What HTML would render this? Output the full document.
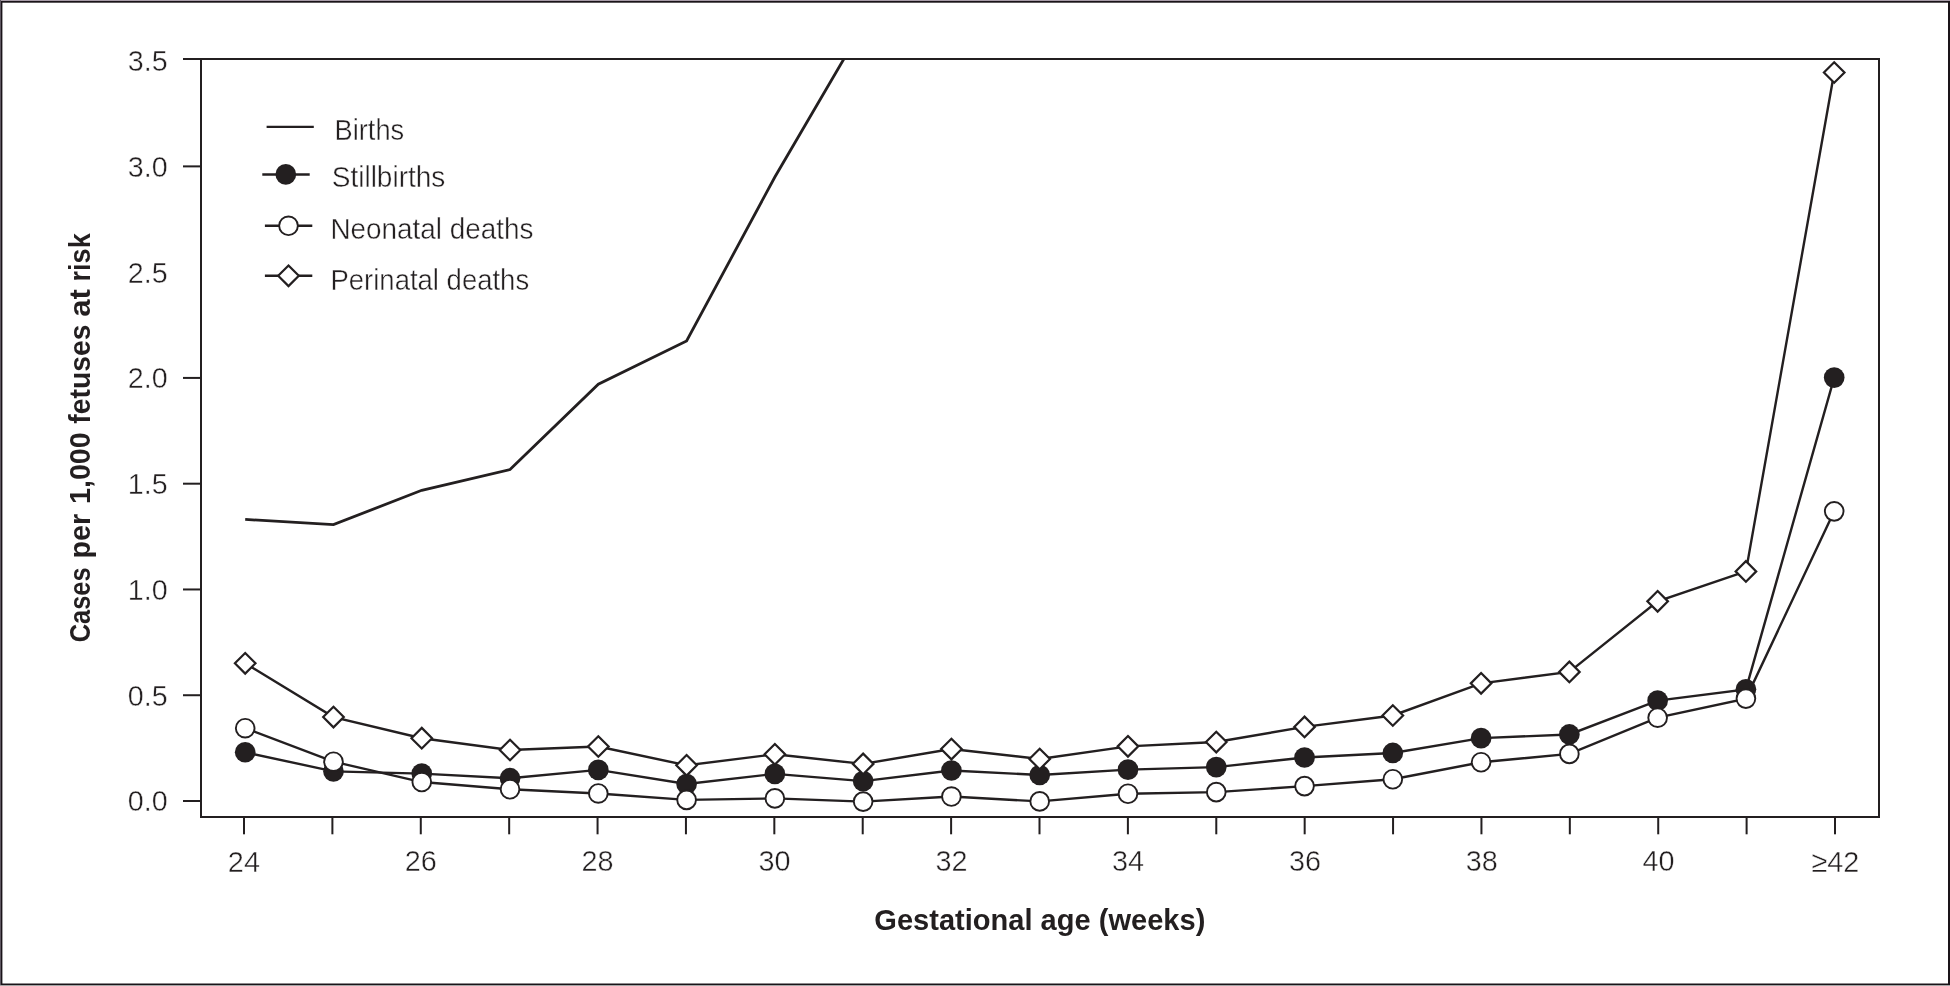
<!DOCTYPE html>
<html><head><meta charset="utf-8"><style>
html,body{margin:0;padding:0;background:#fff;overflow:hidden;}
svg{display:block;will-change:transform;}
.t{font-family:"Liberation Sans",sans-serif;font-size:28px;fill:#231f20;stroke:#fff;stroke-width:0.4px;}
.b{font-family:"Liberation Sans",sans-serif;font-size:28px;font-weight:bold;fill:#231f20;}
</style></head><body>
<svg width="1950" height="986" viewBox="0 0 1950 986">
<rect x="0" y="0" width="1950" height="986" fill="#ffffff"/>
<rect x="0" y="0" width="1950" height="1" fill="#a89ca8"/>
<rect x="0" y="0" width="1" height="986" fill="#5f5862"/>
<rect x="1" y="1" width="1949" height="1.7" fill="#1a1419"/>
<rect x="1" y="1" width="1.4" height="984" fill="#1a1419"/>
<rect x="1948" y="1" width="2" height="984" fill="#1a1419"/>
<rect x="1" y="983.5" width="1949" height="1.5" fill="#1a1419"/>
<rect x="0" y="985" width="1950" height="1" fill="#a6a6a6"/>
<rect x="201" y="59" width="1678" height="758" fill="none" stroke="#231f20" stroke-width="2"/>
<rect x="183" y="800.00" width="18" height="2" fill="#231f20"/>
<text class="t" transform="matrix(1.0250 0 0 1.0532 127.71 811.39)">0.0</text>
<rect x="183" y="694.23" width="18" height="2" fill="#231f20"/>
<text class="t" transform="matrix(1.0250 0 0 1.0532 127.71 705.62)">0.5</text>
<rect x="183" y="588.46" width="18" height="2" fill="#231f20"/>
<text class="t" transform="matrix(1.0250 0 0 1.0532 127.71 599.85)">1.0</text>
<rect x="183" y="482.69" width="18" height="2" fill="#231f20"/>
<text class="t" transform="matrix(1.0250 0 0 1.0667 127.71 494.07)">1.5</text>
<rect x="183" y="376.92" width="18" height="2" fill="#231f20"/>
<text class="t" transform="matrix(1.0250 0 0 1.0532 127.71 388.31)">2.0</text>
<text class="t" transform="matrix(1.0250 0 0 1.0532 127.71 282.54)">2.5</text>
<rect x="183" y="165.38" width="18" height="2" fill="#231f20"/>
<text class="t" transform="matrix(1.0250 0 0 1.0532 127.71 176.77)">3.0</text>
<rect x="183" y="58" width="18" height="2" fill="#231f20"/>
<text class="t" transform="matrix(1.0250 0 0 1.0532 127.71 71.00)">3.5</text>
<rect x="243.00" y="817" width="2" height="17.3" fill="#231f20"/>
<text class="t" transform="matrix(1.0300 0 0 1.0718 227.85 871.60)">24</text>
<rect x="331.39" y="817" width="2" height="17.3" fill="#231f20"/>
<rect x="419.78" y="817" width="2" height="17.3" fill="#231f20"/>
<text class="t" transform="matrix(1.0300 0 0 1.0582 404.76 871.34)">26</text>
<rect x="508.17" y="817" width="2" height="17.3" fill="#231f20"/>
<rect x="596.56" y="817" width="2" height="17.3" fill="#231f20"/>
<text class="t" transform="matrix(1.0300 0 0 1.0582 581.53 871.34)">28</text>
<rect x="684.94" y="817" width="2" height="17.3" fill="#231f20"/>
<rect x="773.33" y="817" width="2" height="17.3" fill="#231f20"/>
<text class="t" transform="matrix(1.0300 0 0 1.0582 758.57 871.34)">30</text>
<rect x="861.72" y="817" width="2" height="17.3" fill="#231f20"/>
<rect x="950.11" y="817" width="2" height="17.3" fill="#231f20"/>
<text class="t" transform="matrix(1.0300 0 0 1.0582 935.47 871.34)">32</text>
<rect x="1038.50" y="817" width="2" height="17.3" fill="#231f20"/>
<rect x="1126.89" y="817" width="2" height="17.3" fill="#231f20"/>
<text class="t" transform="matrix(1.0300 0 0 1.0582 1112.00 871.34)">34</text>
<rect x="1215.28" y="817" width="2" height="17.3" fill="#231f20"/>
<rect x="1303.67" y="817" width="2" height="17.3" fill="#231f20"/>
<text class="t" transform="matrix(1.0300 0 0 1.0582 1288.90 871.34)">36</text>
<rect x="1392.06" y="817" width="2" height="17.3" fill="#231f20"/>
<rect x="1480.44" y="817" width="2" height="17.3" fill="#231f20"/>
<text class="t" transform="matrix(1.0300 0 0 1.0582 1465.68 871.34)">38</text>
<rect x="1568.83" y="817" width="2" height="17.3" fill="#231f20"/>
<rect x="1657.22" y="817" width="2" height="17.3" fill="#231f20"/>
<text class="t" transform="matrix(1.0300 0 0 1.0582 1642.59 871.34)">40</text>
<rect x="1745.61" y="817" width="2" height="17.3" fill="#231f20"/>
<rect x="1834.00" y="817" width="2" height="17.3" fill="#231f20"/>
<text class="t" transform="matrix(1.0300 0 0 1.0718 1811.51 871.60)">≥42</text>
<defs><clipPath id="pc"><rect x="202" y="60" width="1676" height="756"/></clipPath></defs>
<polyline clip-path="url(#pc)" points="245.20,519.40 333.48,524.60 421.76,490.30 510.03,469.60 598.31,384.20 686.59,341.00 774.87,177.00 863.14,26.00" fill="none" stroke="#231f20" stroke-width="2.8"/>
<polyline points="245.20,752.25 333.48,771.40 421.76,773.60 510.03,778.20 598.31,769.90 686.59,784.00 774.87,773.90 863.14,781.10 951.42,770.50 1039.70,775.00 1127.98,769.65 1216.26,767.10 1304.53,757.50 1392.81,752.95 1481.09,738.15 1569.37,734.45 1657.64,700.65 1745.92,689.35 1834.20,377.60" fill="none" stroke="#231f20" stroke-width="2.4"/>
<circle cx="245.20" cy="752.25" r="10.35" fill="#231f20"/>
<circle cx="333.48" cy="771.40" r="10.35" fill="#231f20"/>
<circle cx="421.76" cy="773.60" r="10.35" fill="#231f20"/>
<circle cx="510.03" cy="778.20" r="10.35" fill="#231f20"/>
<circle cx="598.31" cy="769.90" r="10.35" fill="#231f20"/>
<circle cx="686.59" cy="784.00" r="10.35" fill="#231f20"/>
<circle cx="774.87" cy="773.90" r="10.35" fill="#231f20"/>
<circle cx="863.14" cy="781.10" r="10.35" fill="#231f20"/>
<circle cx="951.42" cy="770.50" r="10.35" fill="#231f20"/>
<circle cx="1039.70" cy="775.00" r="10.35" fill="#231f20"/>
<circle cx="1127.98" cy="769.65" r="10.35" fill="#231f20"/>
<circle cx="1216.26" cy="767.10" r="10.35" fill="#231f20"/>
<circle cx="1304.53" cy="757.50" r="10.35" fill="#231f20"/>
<circle cx="1392.81" cy="752.95" r="10.35" fill="#231f20"/>
<circle cx="1481.09" cy="738.15" r="10.35" fill="#231f20"/>
<circle cx="1569.37" cy="734.45" r="10.35" fill="#231f20"/>
<circle cx="1657.64" cy="700.65" r="10.35" fill="#231f20"/>
<circle cx="1745.92" cy="689.35" r="10.35" fill="#231f20"/>
<circle cx="1834.20" cy="377.60" r="10.35" fill="#231f20"/>
<polyline points="245.20,728.20 333.48,761.70 421.76,782.05 510.03,789.25 598.31,793.45 686.59,799.90 774.87,798.40 863.14,801.60 951.42,796.55 1039.70,801.40 1127.98,793.75 1216.26,792.15 1304.53,786.10 1392.81,779.25 1481.09,762.25 1569.37,753.90 1657.64,717.70 1745.92,698.60 1834.20,511.35" fill="none" stroke="#231f20" stroke-width="2.4"/>
<circle cx="245.20" cy="728.20" r="9.35" fill="#fff" stroke="#231f20" stroke-width="1.9"/>
<circle cx="333.48" cy="761.70" r="9.35" fill="#fff" stroke="#231f20" stroke-width="1.9"/>
<circle cx="421.76" cy="782.05" r="9.35" fill="#fff" stroke="#231f20" stroke-width="1.9"/>
<circle cx="510.03" cy="789.25" r="9.35" fill="#fff" stroke="#231f20" stroke-width="1.9"/>
<circle cx="598.31" cy="793.45" r="9.35" fill="#fff" stroke="#231f20" stroke-width="1.9"/>
<circle cx="686.59" cy="799.90" r="9.35" fill="#fff" stroke="#231f20" stroke-width="1.9"/>
<circle cx="774.87" cy="798.40" r="9.35" fill="#fff" stroke="#231f20" stroke-width="1.9"/>
<circle cx="863.14" cy="801.60" r="9.35" fill="#fff" stroke="#231f20" stroke-width="1.9"/>
<circle cx="951.42" cy="796.55" r="9.35" fill="#fff" stroke="#231f20" stroke-width="1.9"/>
<circle cx="1039.70" cy="801.40" r="9.35" fill="#fff" stroke="#231f20" stroke-width="1.9"/>
<circle cx="1127.98" cy="793.75" r="9.35" fill="#fff" stroke="#231f20" stroke-width="1.9"/>
<circle cx="1216.26" cy="792.15" r="9.35" fill="#fff" stroke="#231f20" stroke-width="1.9"/>
<circle cx="1304.53" cy="786.10" r="9.35" fill="#fff" stroke="#231f20" stroke-width="1.9"/>
<circle cx="1392.81" cy="779.25" r="9.35" fill="#fff" stroke="#231f20" stroke-width="1.9"/>
<circle cx="1481.09" cy="762.25" r="9.35" fill="#fff" stroke="#231f20" stroke-width="1.9"/>
<circle cx="1569.37" cy="753.90" r="9.35" fill="#fff" stroke="#231f20" stroke-width="1.9"/>
<circle cx="1657.64" cy="717.70" r="9.35" fill="#fff" stroke="#231f20" stroke-width="1.9"/>
<circle cx="1745.92" cy="698.60" r="9.35" fill="#fff" stroke="#231f20" stroke-width="1.9"/>
<circle cx="1834.20" cy="511.35" r="9.35" fill="#fff" stroke="#231f20" stroke-width="1.9"/>
<polyline points="245.20,663.30 333.48,717.05 421.76,738.20 510.03,750.00 598.31,746.50 686.59,765.30 774.87,754.30 863.14,763.90 951.42,749.05 1039.70,759.00 1127.98,746.35 1216.26,742.05 1304.53,726.90 1392.81,715.50 1481.09,683.35 1569.37,671.90 1657.64,601.35 1745.92,571.40 1834.20,72.50" fill="none" stroke="#231f20" stroke-width="2.4"/>
<polygon points="245.20,653.00 255.50,663.30 245.20,673.60 234.90,663.30" fill="#fff" stroke="#231f20" stroke-width="2.2"/>
<polygon points="333.48,706.75 343.78,717.05 333.48,727.35 323.18,717.05" fill="#fff" stroke="#231f20" stroke-width="2.2"/>
<polygon points="421.76,727.90 432.06,738.20 421.76,748.50 411.46,738.20" fill="#fff" stroke="#231f20" stroke-width="2.2"/>
<polygon points="510.03,739.70 520.33,750.00 510.03,760.30 499.73,750.00" fill="#fff" stroke="#231f20" stroke-width="2.2"/>
<polygon points="598.31,736.20 608.61,746.50 598.31,756.80 588.01,746.50" fill="#fff" stroke="#231f20" stroke-width="2.2"/>
<polygon points="686.59,755.00 696.89,765.30 686.59,775.60 676.29,765.30" fill="#fff" stroke="#231f20" stroke-width="2.2"/>
<polygon points="774.87,744.00 785.17,754.30 774.87,764.60 764.57,754.30" fill="#fff" stroke="#231f20" stroke-width="2.2"/>
<polygon points="863.14,753.60 873.44,763.90 863.14,774.20 852.84,763.90" fill="#fff" stroke="#231f20" stroke-width="2.2"/>
<polygon points="951.42,738.75 961.72,749.05 951.42,759.35 941.12,749.05" fill="#fff" stroke="#231f20" stroke-width="2.2"/>
<polygon points="1039.70,748.70 1050.00,759.00 1039.70,769.30 1029.40,759.00" fill="#fff" stroke="#231f20" stroke-width="2.2"/>
<polygon points="1127.98,736.05 1138.28,746.35 1127.98,756.65 1117.68,746.35" fill="#fff" stroke="#231f20" stroke-width="2.2"/>
<polygon points="1216.26,731.75 1226.56,742.05 1216.26,752.35 1205.96,742.05" fill="#fff" stroke="#231f20" stroke-width="2.2"/>
<polygon points="1304.53,716.60 1314.83,726.90 1304.53,737.20 1294.23,726.90" fill="#fff" stroke="#231f20" stroke-width="2.2"/>
<polygon points="1392.81,705.20 1403.11,715.50 1392.81,725.80 1382.51,715.50" fill="#fff" stroke="#231f20" stroke-width="2.2"/>
<polygon points="1481.09,673.05 1491.39,683.35 1481.09,693.65 1470.79,683.35" fill="#fff" stroke="#231f20" stroke-width="2.2"/>
<polygon points="1569.37,661.60 1579.67,671.90 1569.37,682.20 1559.07,671.90" fill="#fff" stroke="#231f20" stroke-width="2.2"/>
<polygon points="1657.64,591.05 1667.94,601.35 1657.64,611.65 1647.34,601.35" fill="#fff" stroke="#231f20" stroke-width="2.2"/>
<polygon points="1745.92,561.10 1756.22,571.40 1745.92,581.70 1735.62,571.40" fill="#fff" stroke="#231f20" stroke-width="2.2"/>
<polygon points="1834.20,62.20 1844.50,72.50 1834.20,82.80 1823.90,72.50" fill="#fff" stroke="#231f20" stroke-width="2.2"/>
<line x1="266.6" y1="126.9" x2="313.8" y2="126.9" stroke="#231f20" stroke-width="2.4"/>
<line x1="262.3" y1="174.5" x2="309.7" y2="174.5" stroke="#231f20" stroke-width="2.4"/>
<circle cx="285.8" cy="174.4" r="10.35" fill="#231f20"/>
<line x1="264.9" y1="225.8" x2="312.3" y2="225.8" stroke="#231f20" stroke-width="2.4"/>
<circle cx="288.5" cy="225.8" r="9.35" fill="#fff" stroke="#231f20" stroke-width="1.9"/>
<line x1="264.9" y1="275.8" x2="312.3" y2="275.8" stroke="#231f20" stroke-width="2.4"/>
<polygon points="288.5,265.50 298.80,275.8 288.5,286.10 278.20,275.8" fill="#fff" stroke="#231f20" stroke-width="2.2"/>
<text class="t" transform="matrix(0.9733 0 0 1.0400 334.58 139.95)">Births</text>
<text class="t" transform="matrix(1.0004 0 0 1.0400 331.75 187.30)">Stillbirths</text>
<text class="t" transform="matrix(0.9959 0 0 1.0400 330.43 239.00)">Neonatal deaths</text>
<text class="t" transform="matrix(0.9821 0 0 1.0400 330.46 289.60)">Perinatal deaths</text>
<text class="b" transform="matrix(1.0384 0 0 1.0500 874.30 929.85)">Gestational age (weeks)</text>
<text class="b" transform="translate(90.0 642.23) rotate(-90) scale(0.9075 1.0500)">Cases</text>
<text class="b" transform="translate(90.0 558.50) rotate(-90) scale(1.0265 1.0500)">per</text>
<text class="b" transform="translate(90.0 503.99) rotate(-90) scale(1.0245 1.0500)">1,000</text>
<text class="b" transform="translate(90.0 423.71) rotate(-90) scale(1.0135 1.0500)">fetuses</text>
<text class="b" transform="translate(90.0 316.83) rotate(-90) scale(1.1074 1.0500)">at</text>
<text class="b" transform="translate(90.0 281.39) rotate(-90) scale(0.9646 1.0500)">risk</text>
</svg>
</body></html>
